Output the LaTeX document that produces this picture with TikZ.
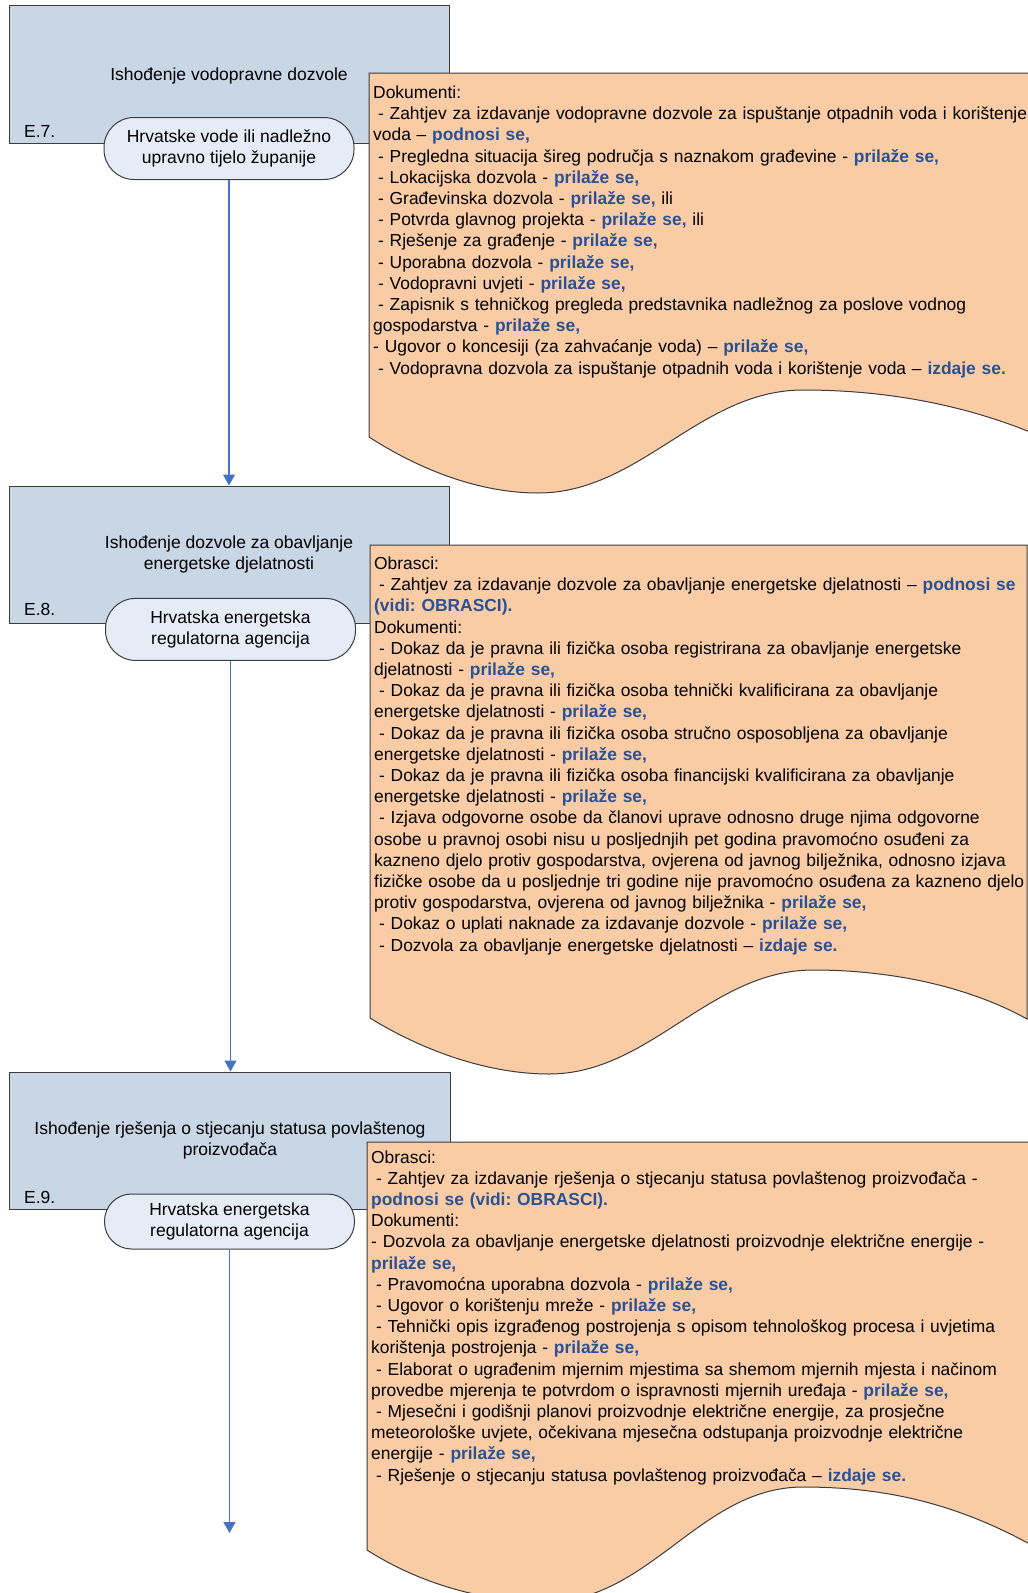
\documentclass[tikz,border=0pt]{standalone}
\usepackage{fontspec}
\setmainfont{Liberation Sans}
\usetikzlibrary{arrows.meta}
\definecolor{boxfill}{RGB}{201,214,230}
\definecolor{stadfill}{RGB}{230,236,246}
\definecolor{docfill}{RGB}{249,204,166}
\definecolor{bordc}{RGB}{60,60,60}
\definecolor{arrc}{RGB}{68,114,196}
\definecolor{bluetxt}{RGB}{41,82,150}
\newcommand{\blu}[1]{{\bfseries\color{bluetxt}#1}}
\newcommand{\myind}{\hspace*{4.9pt}}
\frenchspacing
\begin{document}
\begin{tikzpicture}[x=1pt,y=-1pt,
  taskbox/.style={draw=bordc, line width=1pt, fill=boxfill, inner sep=0pt, align=center,
    font=\fontsize{17.5pt}{21.2pt}\selectfont},
  stadium/.style={draw=bordc, line width=1pt, fill=stadfill, inner sep=0pt, align=center,
    minimum width=250pt, font=\fontsize{17.5pt}{21.6pt}\selectfont},
  docshape/.style={draw=bordc, line width=1pt, fill=docfill},
  doctext/.style={anchor=north west, inner sep=0pt, align=left, text width=720pt,
    font=\fontsize{17.4pt}{21.2pt}\selectfont},
  elabel/.style={anchor=west, inner sep=0pt, font=\fontsize{17.5pt}{21.2pt}\selectfont},
  conn/.style={draw=arrc, line width=1.1pt, -{Triangle[width=12pt,length=11pt]}}]
\useasboundingbox (0,0) rectangle (1028,1593);
\clip (0,0) rectangle (1028,1593);

% task boxes
\node[taskbox, minimum width=440pt, minimum height=138pt] (b1) at (229,74) {};
\node[font=\fontsize{17.5pt}{21.2pt}\selectfont, inner sep=0pt] (t1) at (229,76) {Ishođenje vodopravne dozvole};
\node[elabel] (e1) at (24,131.5) {E.7.};
\node[taskbox, minimum width=440pt, minimum height=137pt] (b2) at (229,554.5) {Ishođenje dozvole za obavljanje\\energetske djelatnosti};
\node[elabel] (e2) at (24,609.6) {E.8.};
\node[taskbox, minimum width=441pt, minimum height=137pt] (b3) at (230,1140.5) {Ishođenje rješenja o stjecanju statusa povlaštenog\\proizvođača};
\node[elabel] (e3) at (24,1197) {E.9.};

% responsible bodies
\node[stadium, minimum height=62pt, rounded corners=30pt] (s1) at (229,148.5) {Hrvatske vode ili nadležno\\upravno tijelo županije};
\node[stadium, minimum height=62pt, rounded corners=30pt] (s2) at (230.5,629.4) {Hrvatska energetska\\regulatorna agencija};
\node[stadium, minimum height=55pt, rounded corners=27pt] (s3) at (229.5,1221.5) {Hrvatska energetska\\regulatorna agencija};

% document shapes
\path[docshape] (369,73) -- (1070,73) -- (1070,450)
  .. controls (990,410) and (900,390) .. (803,390)
  .. controls (700,390) and (640,493) .. (538,493)
  .. controls (480,493) and (420,470) .. (369,437) -- cycle;
\path[docshape] (370,545) -- (1027,545) -- (1027,1019)
  .. controls (975,990) and (900,970) .. (813,970)
  .. controls (710,970) and (650,1074) .. (549,1074)
  .. controls (490,1074) and (425,1052) .. (370,1018) -- cycle;
\path[docshape] (367,1142) -- (1070,1142) -- (1070,1568)
  .. controls (980,1510) and (900,1487) .. (803,1487)
  .. controls (700,1487) and (650,1602) .. (545,1602)
  .. controls (485,1602) and (420,1584) .. (367,1550) -- cycle;

\node[doctext] (d1) at (373,85.6) {Dokumenti:\\
\myind- Zahtjev za izdavanje vodopravne dozvole za ispuštanje otpadnih voda i korištenje\\
voda – \blu{podnosi se,}\\
\myind- Pregledna situacija šireg područja s naznakom građevine - \blu{prilaže se,}\\
\myind- Lokacijska dozvola - \blu{prilaže se,}\\
\myind- Građevinska dozvola - \blu{prilaže se,} ili\\
\myind- Potvrda glavnog projekta - \blu{prilaže se,} ili\\
\myind- Rješenje za građenje - \blu{prilaže se,}\\
\myind- Uporabna dozvola - \blu{prilaže se,}\\
\myind- Vodopravni uvjeti - \blu{prilaže se,}\\
\myind- Zapisnik s tehničkog pregleda predstavnika nadležnog za poslove vodnog\\
gospodarstva - \blu{prilaže se,}\\
- Ugovor o koncesiji (za zahvaćanje voda) – \blu{prilaže se,}\\
\myind- Vodopravna dozvola za ispuštanje otpadnih voda i korištenje voda – \blu{izdaje se.}};

\node[doctext] (d2) at (374,556.6) {Obrasci:\\
\myind- Zahtjev za izdavanje dozvole za obavljanje energetske djelatnosti – \blu{podnosi se}\\
\blu{(vidi: OBRASCI).}\\
Dokumenti:\\
\myind- Dokaz da je pravna ili fizička osoba registrirana za obavljanje energetske\\
djelatnosti - \blu{prilaže se,}\\
\myind- Dokaz da je pravna ili fizička osoba tehnički kvalificirana za obavljanje\\
energetske djelatnosti - \blu{prilaže se,}\\
\myind- Dokaz da je pravna ili fizička osoba stručno osposobljena za obavljanje\\
energetske djelatnosti - \blu{prilaže se,}\\
\myind- Dokaz da je pravna ili fizička osoba financijski kvalificirana za obavljanje\\
energetske djelatnosti - \blu{prilaže se,}\\
\myind- Izjava odgovorne osobe da članovi uprave odnosno druge njima odgovorne\\
osobe u pravnoj osobi nisu u posljednjih pet godina pravomoćno osuđeni za\\
kazneno djelo protiv gospodarstva, ovjerena od javnog bilježnika, odnosno izjava\\
fizičke osobe da u posljednje tri godine nije pravomoćno osuđena za kazneno djelo\\
protiv gospodarstva, ovjerena od javnog bilježnika - \blu{prilaže se,}\\
\myind- Dokaz o uplati naknade za izdavanje dozvole - \blu{prilaže se,}\\
\myind- Dozvola za obavljanje energetske djelatnosti – \blu{izdaje se.}};

\node[doctext] (d3) at (371,1150.2) {Obrasci:\\
\myind- Zahtjev za izdavanje rješenja o stjecanju statusa povlaštenog proizvođača -\\
\blu{podnosi se (vidi: OBRASCI).}\\
Dokumenti:\\
- Dozvola za obavljanje energetske djelatnosti proizvodnje električne energije -\\
\blu{prilaže se,}\\
\myind- Pravomoćna uporabna dozvola - \blu{prilaže se,}\\
\myind- Ugovor o korištenju mreže - \blu{prilaže se,}\\
\myind- Tehnički opis izgrađenog postrojenja s opisom tehnološkog procesa i uvjetima\\
korištenja postrojenja - \blu{prilaže se,}\\
\myind- Elaborat o ugrađenim mjernim mjestima sa shemom mjernih mjesta i načinom\\
provedbe mjerenja te potvrdom o ispravnosti mjernih uređaja - \blu{prilaže se,}\\
\myind- Mjesečni i godišnji planovi proizvodnje električne energije, za prosječne\\
meteorološke uvjete, očekivana mjesečna odstupanja proizvodnje električne\\
energije - \blu{prilaže se,}\\
\myind- Rješenje o stjecanju statusa povlaštenog proizvođača – \blu{izdaje se.}};

% connectors
\coordinate (end3) at (229.5,1533);
\draw[conn] (s1.south) -- (s1.south |- b2.north);
\draw[conn] (s2.south) -- (s2.south |- b3.north);
\draw[conn] (s3.south) -- (end3);
\end{tikzpicture}
\end{document}
